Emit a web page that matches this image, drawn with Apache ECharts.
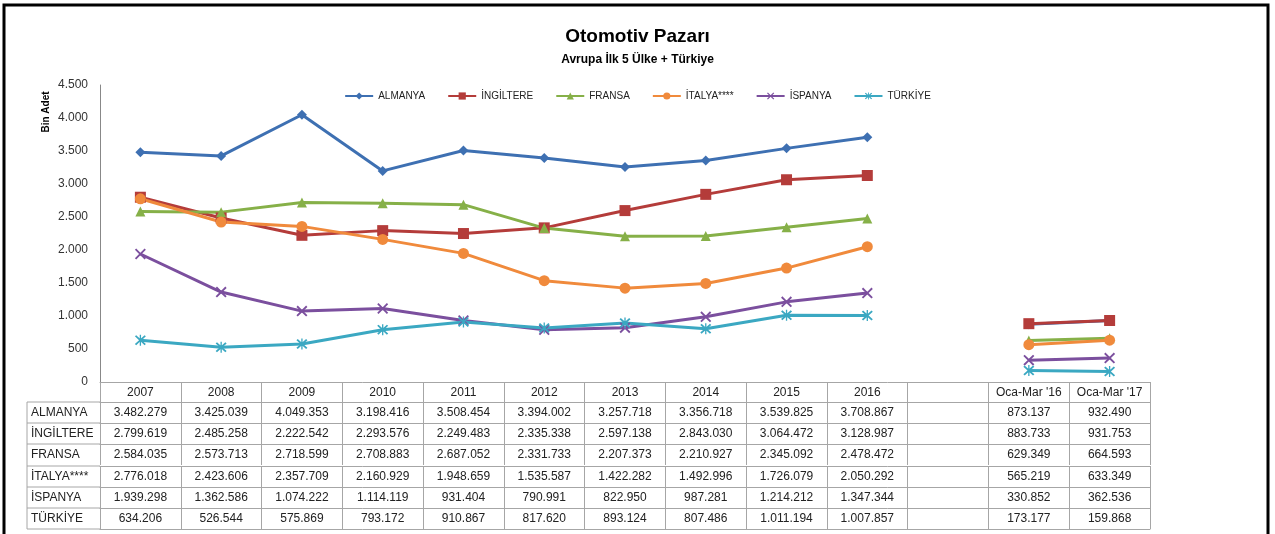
<!DOCTYPE html>
<html>
<head>
<meta charset="utf-8">
<script src="https://cdn.jsdelivr.net/npm/echarts@6/dist/echarts.min.js"></script>
<style>
html, body { margin: 0; padding: 0; background: #fff; }
#main { width: 1275px; height: 534px; }
</style>
</head>
<body>
<div id="main"></div>
<script>
// categories (blank one makes the gap before the quarter figures)
var categories = ['2007', '2008', '2009', '2010', '2011', '2012', '2013', '2014', '2015', '2016', ' ', "Oca-Mar '16", "Oca-Mar '17"];

// sales, units
var almanya   = [3482279, 3425039, 4049353, 3198416, 3508454, 3394002, 3257718, 3356718, 3539825, 3708867, null, 873137, 932490];
var ingiltere = [2799619, 2485258, 2222542, 2293576, 2249483, 2335338, 2597138, 2843030, 3064472, 3128987, null, 883733, 931753];
var fransa    = [2584035, 2573713, 2718599, 2708883, 2687052, 2331733, 2207373, 2210927, 2345092, 2478472, null, 629349, 664593];
var italya    = [2776018, 2423606, 2357709, 2160929, 1948659, 1535587, 1422282, 1492996, 1726079, 2050292, null, 565219, 633349];
var ispanya   = [1939298, 1362586, 1074222, 1114119, 931404, 790991, 822950, 987281, 1214212, 1347344, null, 330852, 362536];
var turkiye   = [634206, 526544, 575869, 793172, 910867, 817620, 893124, 807486, 1011194, 1007857, null, 173177, 159868];

var seriesNames = ['ALMANYA', 'İNGİLTERE', 'FRANSA', 'İTALYA****', 'İSPANYA', 'TÜRKİYE'];
var seriesData = [almanya, ingiltere, fransa, italya, ispanya, turkiye];

// y axis in thousands (Bin Adet)
var yMin = 0, yMax = 4500, yStep = 500;

var colors = ['#3E70B2', '#B43C3A', '#86B048', '#F08A3C', '#7B4F9E', '#3BA8C2'];
var xPath = 'path://M0,1.2L1.2,0L5,3.8L8.8,0L10,1.2L6.2,5L10,8.8L8.8,10L5,6.2L1.2,10L0,8.8L3.8,5Z';
var starPath = 'path://M0,1.2L1.2,0L5,3.8L8.8,0L10,1.2L6.2,5L10,8.8L8.8,10L5,6.2L1.2,10L0,8.8L3.8,5Z M4.4,-0.5L5.6,-0.5L5.6,10.5L4.4,10.5Z';
var symbols = ['diamond', 'rect', 'triangle', 'circle', xPath, starPath];
var symbolSizes = [10, 11, 10, 11, 11, 11];

var FONT = 'Liberation Sans';
var gridLeft = 100, gridRight = 125, gridTop = 85, gridBottom = 152;
var chartH = 534;
var rowOffsets = [0, 20, 41, 62, 84, 105, 126];
var tableEnd = 147;
var tableLine = '#A6A6A6';

function fmt(v) {
	if (v === null || v === undefined) return '';
	return String(Math.round(v)).replace(/\B(?=(\d{3})+(?!\d))/g, '.');
}

var chart = echarts.init(document.getElementById('main'), null, { renderer: 'canvas' });

var xAxes = [{
	type: 'category',
	data: categories,
	position: 'bottom',
	offset: 0,
	boundaryGap: true,
	axisLine: { lineStyle: { color: tableLine, width: 1 } },
	axisTick: { show: true, length: 20, interval: 0, lineStyle: { color: tableLine } },
	axisLabel: { interval: 0, margin: 5, fontSize: 12, fontFamily: FONT, color: '#222' }
}];
seriesData.forEach(function (arr, k) {
	xAxes.push({
		type: 'category',
		data: categories,
		position: 'bottom',
		offset: rowOffsets[k + 1],
		boundaryGap: true,
		axisLine: { lineStyle: { color: tableLine, width: 1 } },
		axisTick: { show: true, length: 21, interval: 0, lineStyle: { color: tableLine } },
		axisLabel: {
			interval: 0, margin: 5, fontSize: 12, fontFamily: FONT, color: '#222',
			formatter: function (value, idx) { return fmt(arr[idx]); }
		}
	});
});
xAxes.push({
	type: 'category',
	data: categories,
	position: 'bottom',
	offset: tableEnd,
	axisLine: { lineStyle: { color: tableLine, width: 1 } },
	axisTick: { show: false },
	axisLabel: { show: false }
});

// left column of the table: row names
var baseY = chartH - gridBottom;
var graphics = [];
graphics.push({
	type: 'line', silent: true,
	shape: { x1: 27, y1: baseY + rowOffsets[1], x2: 27, y2: baseY + tableEnd },
	style: { stroke: tableLine, lineWidth: 1 }
});
for (var r = 1; r < rowOffsets.length; r++) {
	graphics.push({
		type: 'line', silent: true,
		shape: { x1: 27, y1: baseY + rowOffsets[r], x2: gridLeft, y2: baseY + rowOffsets[r] },
		style: { stroke: tableLine, lineWidth: 1 }
	});
	var nextY = r + 1 < rowOffsets.length ? rowOffsets[r + 1] : tableEnd;
	graphics.push({
		type: 'text', silent: true,
		x: 31, y: baseY + (rowOffsets[r] + nextY) / 2,
		style: { text: seriesNames[r - 1], fill: '#222', font: '12px "' + FONT + '"', verticalAlign: 'middle', align: 'left' }
	});
}
graphics.push({
	type: 'line', silent: true,
	shape: { x1: 27, y1: baseY + tableEnd, x2: gridLeft, y2: baseY + tableEnd },
	style: { stroke: tableLine, lineWidth: 1 }
});
// y axis name
graphics.push({
	type: 'text', silent: true,
	x: 46, y: 112, rotation: Math.PI / 2,
	style: { text: 'Bin Adet', fill: '#000', font: 'bold 10px "' + FONT + '"', align: 'center', verticalAlign: 'middle' }
});
// outer frame
graphics.push({
	type: 'rect', silent: true,
	shape: { x: 4, y: 5, width: 1264, height: 560 },
	style: { fill: 'none', stroke: '#000', lineWidth: 3 }
});

var series = seriesData.map(function (arr, k) {
	return {
		name: seriesNames[k],
		type: 'line',
		xAxisIndex: 0,
		data: arr.map(function (v) { return v === null ? null : v / 1000; }),
		symbol: symbols[k],
		symbolSize: symbolSizes[k],
		showAllSymbol: true,
		connectNulls: false,
		lineStyle: { width: 3, color: colors[k] },
		itemStyle: { color: colors[k] },
		emphasis: { disabled: true },
		animation: false
	};
});

var option = {
	animation: false,
	color: colors,
	title: {
		text: 'Otomotiv Pazarı',
		subtext: 'Avrupa İlk 5 Ülke + Türkiye',
		left: 'center',
		top: 22,
		itemGap: 8,
		textStyle: { fontFamily: FONT, fontSize: 19, fontWeight: 'bold', color: '#000' },
		subtextStyle: { fontFamily: FONT, fontSize: 12, fontWeight: 'bold', color: '#000' }
	},
	legend: {
		data: seriesNames,
		top: 86,
		left: 'center',
		itemWidth: 28,
		itemHeight: 9,
		itemGap: 22,
		textStyle: { fontFamily: FONT, fontSize: 10, color: '#222' }
	},
	grid: { left: gridLeft, right: gridRight, top: gridTop, bottom: gridBottom, containLabel: false },
	xAxis: xAxes,
	yAxis: {
		type: 'value',
		min: yMin,
		max: yMax,
		interval: yStep,
		axisLine: { show: true, lineStyle: { color: '#888' } },
		axisTick: { show: false },
		splitLine: { show: false },
		axisLabel: {
			margin: 12, fontSize: 12, fontFamily: FONT, color: '#333',
			formatter: function (v) { return fmt(v); }
		}
	},
	graphic: graphics,
	series: series
};

chart.setOption(option);
</script>
</body>
</html>
